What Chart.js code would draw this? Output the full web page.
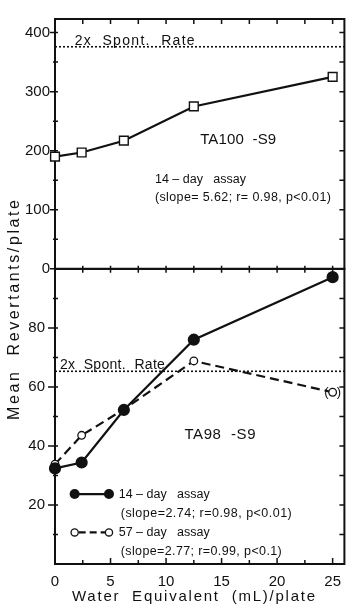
<!DOCTYPE html>
<html>
<head>
<meta charset="utf-8">
<script src="https://cdn.jsdelivr.net/npm/chart.js@4.4.1/dist/chart.umd.min.js"></script>
<style>
  html, body { margin: 0; padding: 0; background: #fff; }
</style>
</head>
<body>
<canvas id="assayChart" width="352" height="604"></canvas>
<script>
// water equivalent (mL) per plate
const waterMl = [0, 2.4, 6.2, 12.5, 25];

// TA100 -S9, 14-day assay
const ta100Day14 = [190, 197, 217, 275, 325];

// TA98 -S9, 14-day and 57-day assays
const ta98Day14 = [32.4, 34.4, 52.2, 76, 97.2];
const ta98Day57 = [33.8, 43.6, 52.4, 68.8, 58.2];

// twice the spontaneous revertant rate for each strain
const spontTA100 = 376;
const spontTA98 = 65.3;

const xTicks = [0, 5, 10, 15, 20, 25];
const ta100Ticks = [0, 100, 200, 300, 400];
const ta98Ticks = [20, 40, 60, 80];

const X_MAX = 26.06;
const TA100_MAX = 423;
const TA98_MAX = 100;

const INK = '#111';
const FONT = '"Liberation Sans", Arial, sans-serif';

function pts(xs, ys) {
    return xs.map((x, i) => ({x: x, y: ys[i]}));
}

// draw text stretched to a given width with letter spacing
function spaced(ctx, text, x, y, width, size) {
    ctx.font = size + 'px ' + FONT;
    ctx.letterSpacing = '0px';
    let natural = ctx.measureText(text).width;
    let gap = Math.max(0, (width - natural) / (text.length - 1));
    ctx.letterSpacing = gap + 'px';
    ctx.fillText(text, x, y);
    ctx.letterSpacing = '0px';
}

function tickSet(from, to, step) {
    let out = [];
    for (let v = from; v <= to + 1e-9; v += step) out.push(v);
    return out;
}

// boxes round both panels plus the small inside ticks
const panelFrame = {
    id: 'panelFrame',
    beforeDatasetsDraw(chart) {
        const ctx = chart.ctx;
        const area = chart.chartArea;
        const x = chart.scales.x;
        const yT = chart.scales.yTop;
        const yB = chart.scales.yBot;
        ctx.save();
        ctx.strokeStyle = INK;
        ctx.lineWidth = 2;
        ctx.strokeRect(area.left, yT.top, area.right - area.left, yT.bottom - yT.top);
        ctx.strokeRect(area.left, yB.top, area.right - area.left, yB.bottom - yB.top);

        ctx.lineWidth = 1.5;
        ctx.beginPath();
        tickSet(0, 25, 2.5).forEach(v => {
            const px = x.getPixelForValue(v);
            const major = v % 5 === 0;
            // top edge
            ctx.moveTo(px, yT.top); ctx.lineTo(px, yT.top + 5);
            // shared edge between panels
            ctx.moveTo(px, yT.bottom - 3); ctx.lineTo(px, yT.bottom + 4);
            // bottom axis
            ctx.moveTo(px, yB.bottom); ctx.lineTo(px, yB.bottom - (major ? 6 : 4));
        });
        tickSet(0, 400, 50).forEach(v => {
            const py = yT.getPixelForValue(v);
            const major = v % 100 === 0;
            ctx.moveTo(area.left - (major ? 5 : 2), py); ctx.lineTo(area.left + 3, py);
            ctx.moveTo(area.right, py); ctx.lineTo(area.right - 5, py);
        });
        tickSet(10, 90, 10).forEach(v => {
            const py = yB.getPixelForValue(v);
            const major = v % 20 === 0;
            ctx.moveTo(area.left - (major ? 7 : 2), py); ctx.lineTo(area.left + 3, py);
            ctx.moveTo(area.right, py); ctx.lineTo(area.right - 5, py);
        });
        ctx.stroke();
        ctx.restore();
    },
    afterDatasetsDraw(chart) {
        const ctx = chart.ctx;
        const x = chart.scales.x;
        const yT = chart.scales.yTop;
        const yB = chart.scales.yBot;
        ctx.save();
        ctx.fillStyle = INK;
        ctx.strokeStyle = INK;

        // top panel labels
        ctx.textBaseline = 'bottom';
        spaced(ctx, '2x  Spont.  Rate', x.getPixelForValue(1.77), yT.getPixelForValue(spontTA100) + 1, 120, 14);
        ctx.textBaseline = 'middle';
        spaced(ctx, 'TA100  -S9', x.getPixelForValue(13.07), yT.getPixelForValue(218), 76, 15);
        spaced(ctx, '14 \u2013 day   assay', x.getPixelForValue(9.0), yT.getPixelForValue(152), 90, 12.5);
        spaced(ctx, '(slope= 5.62; r= 0.98, p<0.01)', x.getPixelForValue(9.0), yT.getPixelForValue(120), 176, 12.5);

        // bottom panel labels
        ctx.textBaseline = 'bottom';
        spaced(ctx, '2x  Spont.  Rate', x.getPixelForValue(0.44), yB.getPixelForValue(spontTA98) + 1, 105, 14);
        ctx.textBaseline = 'middle';
        spaced(ctx, 'TA98  -S9', x.getPixelForValue(11.66), yB.getPixelForValue(43.7), 71, 15);

        // parentheses round the last 57-day point
        const lastX = x.getPixelForValue(waterMl[4]);
        const lastY = yB.getPixelForValue(ta98Day57[4]);
        ctx.font = '13px ' + FONT;
        ctx.textAlign = 'right';
        ctx.fillText('(', lastX - 4, lastY);
        ctx.textAlign = 'left';
        ctx.fillText(')', lastX + 4, lastY);

        // legend inside the bottom panel
        const lx0 = x.getPixelForValue(1.77);
        const lx1 = x.getPixelForValue(4.86);
        const tx = x.getPixelForValue(5.74);
        const r1 = yB.getPixelForValue(23.7);
        const r2 = yB.getPixelForValue(17);
        const r3 = yB.getPixelForValue(10.7);
        const r4 = yB.getPixelForValue(4.3);

        ctx.lineWidth = 2.2;
        ctx.beginPath();
        ctx.moveTo(lx0, r1); ctx.lineTo(lx1, r1);
        ctx.stroke();
        [lx0, lx1].forEach(px => {
            ctx.beginPath(); ctx.arc(px, r1, 5, 0, Math.PI * 2); ctx.fill();
        });

        ctx.setLineDash([7, 4]);
        ctx.beginPath();
        ctx.moveTo(lx0 + 4, r3); ctx.lineTo(lx1 - 4, r3);
        ctx.stroke();
        ctx.setLineDash([]);
        ctx.lineWidth = 1.3;
        [lx0, lx1].forEach(px => {
            ctx.beginPath(); ctx.arc(px, r3, 3.6, 0, Math.PI * 2);
            ctx.fillStyle = '#fff'; ctx.fill(); ctx.stroke();
        });
        ctx.fillStyle = INK;

        ctx.textAlign = 'left';
        spaced(ctx, '14 \u2013 day   assay', tx, r1, 90, 12.5);
        spaced(ctx, '(slope=2.74; r=0.98, p<0.01)', tx + 2, r2, 171, 12.5);
        spaced(ctx, '57 \u2013 day   assay', tx, r3, 90, 12.5);
        spaced(ctx, '(slope=2.77; r=0.99, p<0.1)', tx + 2, r4, 161, 12.5);

        // axis titles
        spaced(ctx, 'Water  Equivalent  (mL)/plate', 72, 597, 243, 15);
        ctx.translate(15, 310);
        ctx.rotate(-Math.PI / 2);
        spaced(ctx, 'Mean  Revertants/plate', -110, 0, 220, 16);
        ctx.restore();
    }
};

const tickFont = {family: FONT, size: 15};

const assayChart = new Chart(document.getElementById('assayChart'), {
    type: 'line',
    data: {
        datasets: [
            {
                label: 'TA100 14-day',
                data: pts(waterMl, ta100Day14),
                yAxisID: 'yTop',
                borderColor: INK, borderWidth: 2.2,
                pointStyle: 'rect', pointRadius: 6.2,
                pointBackgroundColor: '#fff', pointBorderColor: INK, pointBorderWidth: 1.4,
                clip: false
            },
            {
                label: 'TA98 14-day',
                data: pts(waterMl, ta98Day14),
                yAxisID: 'yBot',
                borderColor: INK, borderWidth: 2.2,
                pointRadius: 5, pointBackgroundColor: INK, pointBorderColor: INK,
                clip: false
            },
            {
                label: 'TA98 57-day',
                data: pts(waterMl, ta98Day57),
                yAxisID: 'yBot',
                borderColor: INK, borderWidth: 2.2, borderDash: [9, 5],
                pointRadius: 3.8, pointBackgroundColor: '#fff', pointBorderColor: INK, pointBorderWidth: 1.3,
                clip: false
            },
            {
                label: 'TA100 2x spont',
                data: [{x: 0, y: spontTA100}, {x: X_MAX, y: spontTA100}],
                yAxisID: 'yTop',
                borderColor: INK, borderWidth: 1.6, borderDash: [2, 2],
                pointRadius: 0
            },
            {
                label: 'TA98 2x spont',
                data: [{x: 0, y: spontTA98}, {x: X_MAX, y: spontTA98}],
                yAxisID: 'yBot',
                borderColor: INK, borderWidth: 1.6, borderDash: [2, 2],
                pointRadius: 0
            }
        ]
    },
    options: {
        responsive: false,
        animation: false,
        devicePixelRatio: 1,
        layout: {padding: {top: 10, right: 2, left: 0, bottom: 0}},
        plugins: {legend: {display: false}, tooltip: {enabled: false}},
        scales: {
            x: {
                type: 'linear', position: 'bottom', min: 0, max: X_MAX,
                grid: {display: false, drawTicks: false}, border: {display: false},
                afterBuildTicks: s => { s.ticks = xTicks.map(v => ({value: v})); },
                afterFit: s => { s.height = 40; },
                ticks: {font: tickFont, color: INK, padding: 9, maxRotation: 0, autoSkip: false}
            },
            yBot: {
                type: 'linear', position: 'left', stack: 'panels', stackWeight: 300,
                min: 0, max: TA98_MAX,
                grid: {display: false, drawTicks: false}, border: {display: false},
                afterBuildTicks: s => { s.ticks = ta98Ticks.map(v => ({value: v})); },
                afterFit: s => { s.width = 55; },
                ticks: {font: tickFont, color: INK, padding: 10}
            },
            yTop: {
                type: 'linear', position: 'left', stack: 'panels', stackWeight: 254,
                min: 0, max: TA100_MAX,
                grid: {display: false, drawTicks: false}, border: {display: false},
                afterBuildTicks: s => { s.ticks = ta100Ticks.map(v => ({value: v})); },
                afterFit: s => { s.width = 55; },
                ticks: {font: tickFont, color: INK, padding: 5}
            }
        }
    },
    plugins: [panelFrame]
});
</script>
</body>
</html>
